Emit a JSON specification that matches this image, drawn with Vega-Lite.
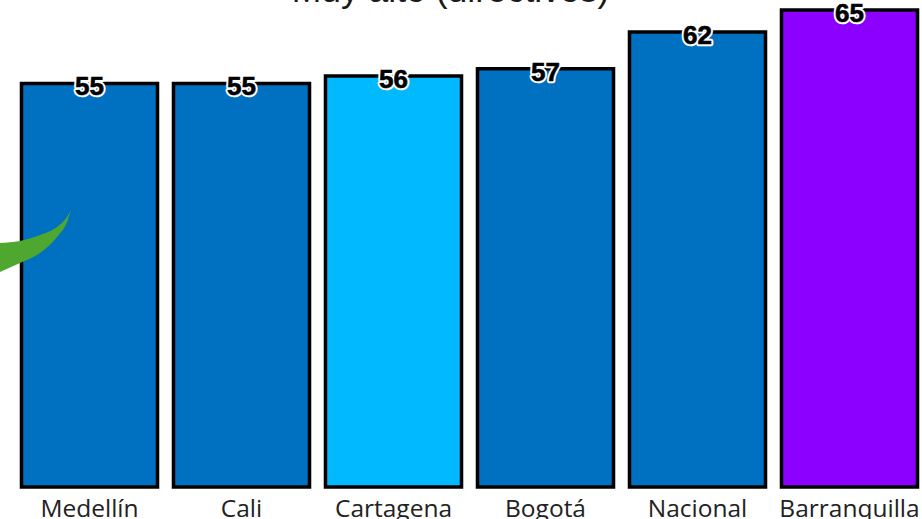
{"$schema":"https://vega.github.io/schema/vega-lite/v6.json","width":912,"height":477,"autosize":"none","padding":{"left":13.5,"top":10,"right":0,"bottom":32},"background":"white","config":{"view":{"stroke":null}},"title":{"text":"Muy alto (directivos)","font":"Liberation Sans","fontSize":35.5,"fontWeight":"normal","color":"#1a1a1a","anchor":"middle","frame":"group","dx":-19,"offset":-36,"baseline":"alphabetic"},"datasets":{"bars":[{"ciudad":"Medellín","valor":55,"tono":"a"},{"ciudad":"Cali","valor":55,"tono":"a"},{"ciudad":"Cartagena","valor":56,"tono":"b"},{"ciudad":"Bogotá","valor":57,"tono":"a"},{"ciudad":"Nacional","valor":62,"tono":"a"},{"ciudad":"Barranquilla","valor":65,"tono":"c"}],"swoosh":[{"px":-13.5,"top":244,"bottom":215},{"px":6.5,"top":246,"bottom":224},{"px":26.5,"top":252,"bottom":234},{"px":43.5,"top":260,"bottom":250},{"px":53.5,"top":270,"bottom":265},{"px":57.5,"top":277,"bottom":277}]},"layer":[{"layer":[{"data":{"name":"bars"},"mark":{"type":"bar","stroke":"black","strokeWidth":3.5},"encoding":{"x":{"field":"ciudad","type":"nominal","sort":null,"scale":{"paddingInner":0.105,"paddingOuter":0.0525},"axis":{"title":null,"domain":false,"ticks":false,"labelAngle":0,"labelFont":"Open Sans","labelFontSize":24.5,"labelColor":"#222222","labelPadding":29,"labelBaseline":"alphabetic","labelOverlap":false,"labelBound":false,"labelFlush":false,"encode":{"labels":{"update":{"dy":{"signal":"indexof(['Cartagena','Bogotá','Barranquilla'],datum.value)>=0?-2:0"}}}}}},"y":{"field":"valor","type":"quantitative","scale":{"domain":[0,65]},"axis":null},"color":{"field":"tono","type":"nominal","scale":{"domain":["a","b","c"],"range":["#0070C0","#00B9FF","#8B00FF"]},"legend":null}}},{"data":{"name":"bars"},"mark":{"type":"text","font":"Liberation Sans","fontWeight":"bold","fontSize":26,"stroke":"white","strokeWidth":4.5,"strokeJoin":"round","baseline":"middle","dy":4},"encoding":{"x":{"field":"ciudad","type":"nominal","sort":null},"y":{"field":"valor","type":"quantitative"},"text":{"field":"valor"}}},{"data":{"name":"bars"},"mark":{"type":"text","font":"Liberation Sans","fontWeight":"bold","fontSize":26,"fill":"black","stroke":"black","strokeWidth":0.6,"baseline":"middle","dy":4},"encoding":{"x":{"field":"ciudad","type":"nominal","sort":null},"y":{"field":"valor","type":"quantitative"},"text":{"field":"valor"}}}]},{"data":{"name":"swoosh"},"mark":{"type":"area","color":"#4EA72E","clip":false,"interpolate":"monotone"},"encoding":{"x":{"field":"px","type":"quantitative","scale":{"domain":[0,912]},"axis":null},"y":{"field":"top","type":"quantitative","scale":{"domain":[0,477]},"axis":null},"y2":{"field":"bottom"}}}],"resolve":{"scale":{"x":"independent","y":"independent"}}}
